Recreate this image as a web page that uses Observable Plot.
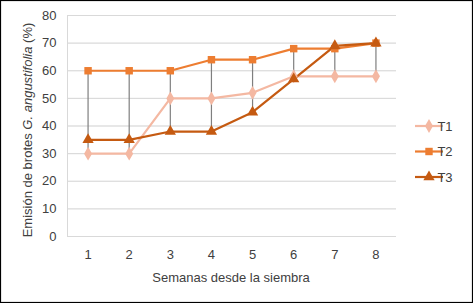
<!DOCTYPE html>
<html><head><meta charset="utf-8">
<script src="https://cdn.jsdelivr.net/npm/d3@7"></script>
<script src="https://cdn.jsdelivr.net/npm/@observablehq/plot@0.6"></script>
<style>body{margin:0;background:#fff}</style>
</head><body>
<div id="chart"></div>
<script>
const weeks = [1,2,3,4,5,6,7,8];
const t1 = [30,30,50,50,52,58,58,58];
const t2 = [60,60,60,64,64,68,68,70];
const t3 = [35,35,38,38,45,57,69,70];
const seriesNames = ["T1","T2","T3"];
const seriesColors = ["#F4B8A2","#ED7D31","#C55A11"];
const seriesSymbols = ["diamond","square","triangle"];
const yTicks = [0,10,20,30,40,50,60,70,80];

const rows = [];
[t1,t2,t3].forEach((vals,i)=>vals.forEach((v,j)=>rows.push({week:weeks[j],value:v,series:seriesNames[i]})));
const hilo = weeks.map((w,j)=>({week:w,lo:Math.min(t1[j],t2[j],t3[j]),hi:Math.max(t1[j],t2[j],t3[j])}));

const font = "'Liberation Sans', Arial, sans-serif";
const plot = Plot.plot({
  width:473, height:303,
  marginLeft:67, marginRight:77, marginTop:15, marginBottom:67,
  style:{fontFamily:font, fontSize:"13px", color:"#404040", background:"#fff"},
  x:{type:"linear", domain:[0.5,8.5], ticks:weeks, tickSize:0, tickPadding:13, label:null, tickFormat:d=>d},
  y:{domain:[0,80], ticks:yTicks, tickSize:0, tickPadding:11, label:null, grid:true},
  color:{domain:seriesNames, range:seriesColors},
  symbol:{domain:seriesNames, range:seriesSymbols},
  marks:[
    Plot.gridY(yTicks,{stroke:"#d9d9d9", strokeOpacity:1}),
    Plot.ruleX([0.5],{stroke:"#d9d9d9"}),
    Plot.line(rows,{x:"week",y:"value",z:"series",stroke:"series",strokeWidth:2.2}),
    Plot.ruleX(hilo,{x:"week",y1:"lo",y2:"hi",stroke:"#7f7f7f",strokeWidth:1.2}),
    Plot.dot(rows,{x:"week",y:"value",fill:"series",symbol:"series",r:4.2,stroke:null})
  ]
});
document.getElementById("chart").appendChild(plot);
const svg = d3.select(plot);
// y-axis title with italic species name
const yt = svg.append("text")
  .attr("transform","translate(32,130) rotate(-90)")
  .attr("text-anchor","middle")
  .style("font-family",font).style("font-size","13px").attr("fill","#404040");
yt.append("tspan").text("Emisión de brotes ");
yt.append("tspan").style("font-style","italic").text("G. angustifolia");
yt.append("tspan").text(" (%)");
// x-axis title
svg.append("text").attr("x",231).attr("y",282).attr("text-anchor","middle")
  .style("font-family",font).style("font-size","13px").attr("fill","#404040")
  .text("Semanas desde la siembra");
// legend
const lg = svg.append("g");
const symMap = {diamond:d3.symbolDiamond, square:d3.symbolSquare, triangle:d3.symbolTriangle};
seriesNames.forEach((n,i)=>{
  const y = 126 + i*25.5;
  lg.append("line").attr("x1",415).attr("x2",443).attr("y1",y).attr("y2",y)
    .attr("stroke",seriesColors[i]).attr("stroke-width",2.2);
  lg.append("path").attr("transform",`translate(429,${y})`)
    .attr("d",d3.symbol(symMap[seriesSymbols[i]], 55)()).attr("fill",seriesColors[i]);
  lg.append("text").attr("x",445).attr("y",y).attr("dy","0.35em")
    .style("font-family",font).style("font-size","13px").attr("fill","#404040").text(n);
});
// outer border
svg.append("rect").attr("x",0.5).attr("y",0.5).attr("width",472).attr("height",302)
  .attr("fill","none").attr("stroke","#000").attr("stroke-width",1.2);
</script>
</body></html>
